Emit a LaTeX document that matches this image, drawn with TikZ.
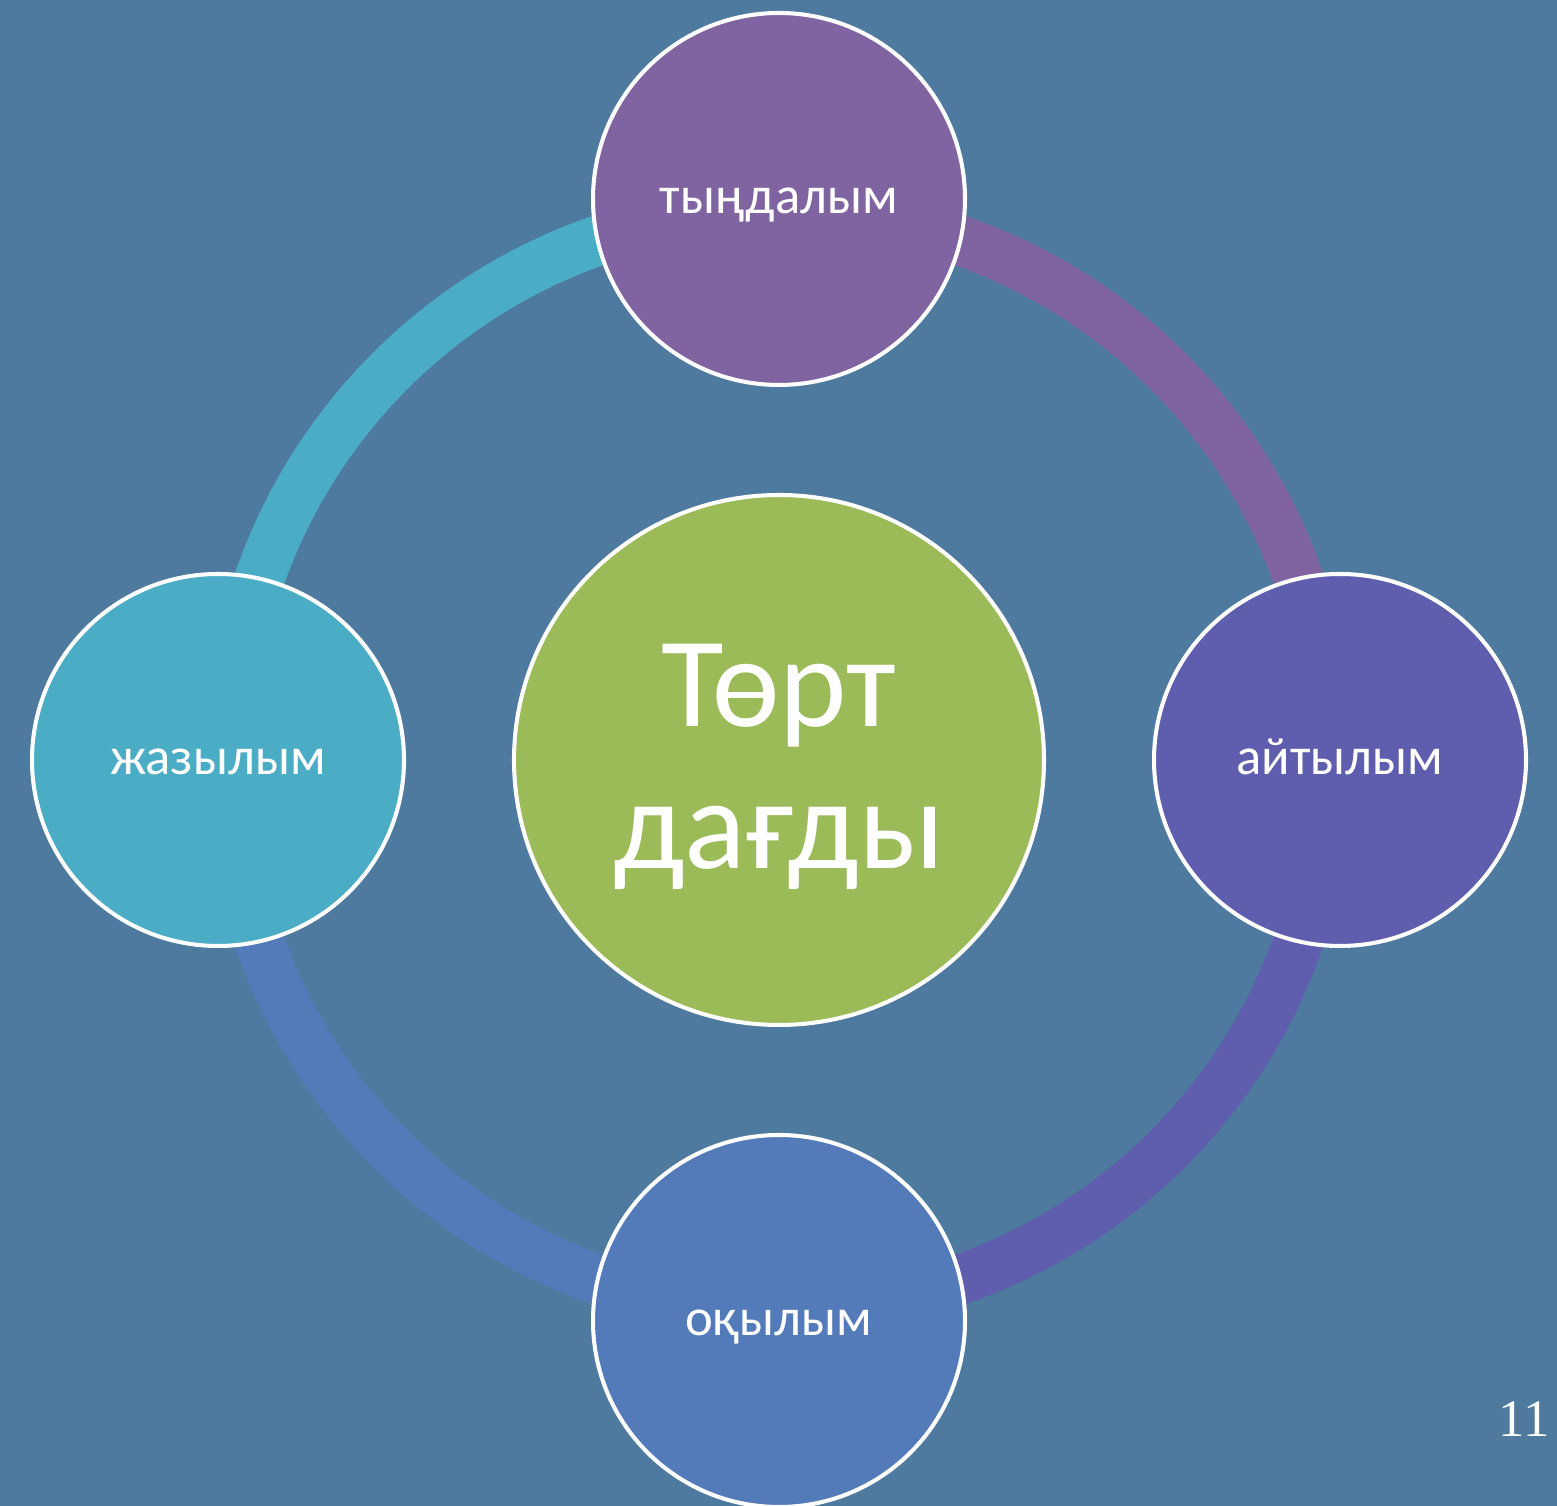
\documentclass[tikz,border=0pt]{standalone}
\usepackage{fontspec}
\setmainfont{Carlito}
\newfontfamily\pagefont{Liberation Serif}
\usetikzlibrary{positioning}

\definecolor{bgblue}{HTML}{4E7A9F}
\definecolor{skillgreen}{HTML}{9BBB59}
\definecolor{listenpurple}{HTML}{8064A2}
\definecolor{speakviolet}{HTML}{5F5DAD}
\definecolor{readblue}{HTML}{537AB9}
\definecolor{writecyan}{HTML}{4BACC6}

\begin{document}
\begin{tikzpicture}[
    node distance=11.22cm, on grid,
    hub/.style={
        circle, draw=white, line width=2.3pt, minimum size=10.6cm,
        fill=skillgreen, inner sep=0pt
    },
    hubtext/.style={
        text=white, align=center, font=\fontsize{73}{81}\selectfont, inner sep=0pt
    },
    sat/.style={
        circle, draw=white, line width=2.3pt, minimum size=7.44cm,
        text=white, font=\fontsize{30}{36}\selectfont, inner sep=0pt,
        text height=0.8cm, text depth=0.2cm
    },
    ring/.style={line width=1cm}
]

% background and page size
\fill[bgblue] (0,0) rectangle (31.14,30.12);
\useasboundingbox (0,0) rectangle (31.14,30.12);

\coordinate (mid) at (15.58,14.92);

% ring segments behind the circles
\draw[ring, listenpurple] (mid) ++(90:11) arc[start angle=90, end angle=0, radius=11];
\draw[ring, speakviolet] (mid) ++(0:11) arc[start angle=0, end angle=-90, radius=11];
\draw[ring, readblue] (mid) ++(-90:11) arc[start angle=-90, end angle=-180, radius=11];
\draw[ring, writecyan] (mid) ++(180:11) arc[start angle=180, end angle=90, radius=11];

\node[hub] (ctr) at (mid) {};
\node[hubtext] (ctrtext) at ([yshift=-0.14cm]ctr.center) {Төрт\\дағды};
\node[sat, fill=listenpurple, above=of ctr] (listen) {тыңдалым};
\node[sat, fill=speakviolet, right=of ctr] (speak) {айтылым};
\node[sat, fill=readblue, below=of ctr] (read) {оқылым};
\node[sat, fill=writecyan, left=of ctr] (write) {жазылым};

\node[anchor=base east, text=white, font=\pagefont\fontsize{30}{36}\selectfont, inner sep=0pt]
    (pagenum) at (31.0,1.38) {11};

\end{tikzpicture}
\end{document}
